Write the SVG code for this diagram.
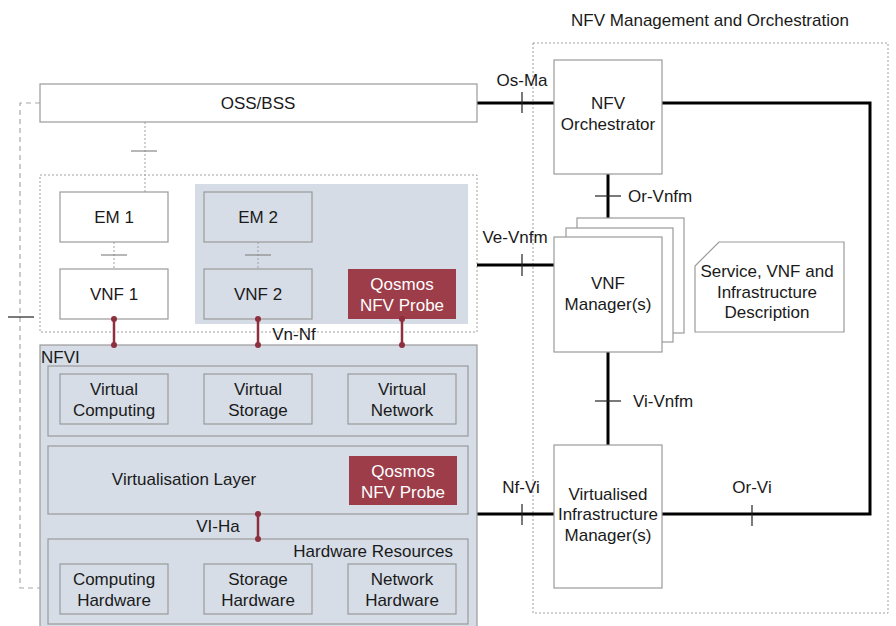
<svg xmlns="http://www.w3.org/2000/svg" width="896" height="626" viewBox="0 0 896 626">
<style>
text{font-family:"Liberation Sans",Arial,sans-serif;font-size:17px;fill:#1a1a1a;text-anchor:middle}
.w{fill:#ffffff}
.box{fill:#ffffff;stroke:#9a9a9a;stroke-width:1.2}
.gbox{fill:#d6dde7;stroke:#9a9a9a;stroke-width:1.2}
.probe{fill:#9c3d49;stroke:none}
.dot{fill:none;stroke:#a0a0a0;stroke-width:1;stroke-dasharray:2 2}
.dash{fill:none;stroke:#a8a8a8;stroke-width:1.2;stroke-dasharray:5 4}
.thick{fill:none;stroke:#000;stroke-width:3}
.tick{fill:none;stroke:#222;stroke-width:1.2}
.gtick{fill:none;stroke:#888;stroke-width:1.2}
.red{fill:none;stroke:#8e2f3d;stroke-width:2.5}
.rdot{fill:#8e2f3d}
</style>
<rect width="896" height="626" fill="#ffffff"/>

<g id="mano">
<rect x="533" y="43" width="355" height="570" class="dot"/>
<text x="710" y="26">NFV Management and Orchestration</text>
</g>

<g id="vnf-area">
<rect x="40" y="175" width="437" height="157" class="dot"/>
<rect x="195" y="184" width="273" height="140" fill="#d6dce6"/>
</g>

<g id="connectors">
<path class="dash" d="M40,103 H20 V588 H60"/>
<path class="tick" d="M8,317 H34"/>
<path class="dot" d="M145,122 V192"/>
<path class="gtick" d="M131,151 H157"/>
<path class="dot" d="M114,242 V269"/>
<path class="gtick" d="M101,255 H127"/>
<path class="dot" d="M258,242 V269"/>
<path class="gtick" d="M245,255 H271"/>
<path class="thick" d="M477,103 H566"/>
<path class="tick" d="M522,92 V113"/>
<path class="thick" d="M662,103 H870 V514 H662"/>
<path class="tick" d="M752,505 V526"/>
<path class="thick" d="M608,174 V218"/>
<path class="tick" d="M595,196 H621"/>
<path class="thick" d="M477,265 H554"/>
<path class="tick" d="M522,254 V276"/>
<path class="thick" d="M608,352 V445"/>
<path class="tick" d="M595,401 H621"/>
<path class="thick" d="M477,514 H554"/>
<path class="tick" d="M522,504 V525"/>
</g>

<g id="oss">
<rect x="40" y="84" width="437" height="38" class="box"/>
<text x="258" y="109">OSS/BSS</text>
</g>

<g id="em1"><rect x="60" y="192" width="108" height="50" class="box"/><text x="114" y="223">EM 1</text></g>
<g id="vnf1"><rect x="60" y="269" width="108" height="50" class="box"/><text x="114" y="300">VNF 1</text></g>
<g id="em2"><rect x="204" y="192" width="108" height="50" class="gbox"/><text x="258" y="223">EM 2</text></g>
<g id="vnf2"><rect x="204" y="269" width="108" height="50" class="gbox"/><text x="258" y="300">VNF 2</text></g>
<g id="probe1"><rect x="348" y="269" width="108" height="50" class="probe"/><text x="402" y="290" class="w">Qosmos</text><text x="402" y="311" class="w">NFV Probe</text></g>

<g id="nfvi">
<rect x="40" y="345" width="437" height="290" class="gbox"/>
<text x="41" y="363" style="text-anchor:start">NFVI</text>
<rect x="48" y="366" width="420" height="70" class="gbox"/>
<rect x="48" y="446" width="420" height="68" class="gbox"/>
<rect x="48" y="539" width="420" height="85" class="gbox"/>
</g>
<g id="vcomp"><rect x="60" y="374" width="108" height="50" class="gbox"/><text x="114" y="395">Virtual</text><text x="114" y="416">Computing</text></g>
<g id="vstor"><rect x="204" y="374" width="108" height="50" class="gbox"/><text x="258" y="395">Virtual</text><text x="258" y="416">Storage</text></g>
<g id="vnet"><rect x="348" y="374" width="108" height="50" class="gbox"/><text x="402" y="395">Virtual</text><text x="402" y="416">Network</text></g>
<g id="virtlayer"><text x="184" y="485">Virtualisation Layer</text></g>
<g id="probe2"><rect x="349" y="456" width="108" height="49" class="probe"/><text x="403" y="477" class="w">Qosmos</text><text x="403" y="498" class="w">NFV Probe</text></g>
<g id="hwres"><text x="453" y="557" style="text-anchor:end">Hardware Resources</text></g>
<g id="chw"><rect x="60" y="564" width="108" height="50" class="gbox"/><text x="114" y="585">Computing</text><text x="114" y="606">Hardware</text></g>
<g id="shw"><rect x="204" y="564" width="108" height="50" class="gbox"/><text x="258" y="585">Storage</text><text x="258" y="606">Hardware</text></g>
<g id="nhw"><rect x="348" y="564" width="108" height="50" class="gbox"/><text x="402" y="585">Network</text><text x="402" y="606">Hardware</text></g>

<g id="red-connectors">
<path class="red" d="M114,319 V345 M258,319 V345 M402,319 V345 M258,514 V539"/>
<circle cx="114" cy="319" r="3" class="rdot"/><circle cx="114" cy="345" r="3" class="rdot"/>
<circle cx="258" cy="319" r="3" class="rdot"/><circle cx="258" cy="345" r="3" class="rdot"/>
<circle cx="402" cy="319" r="3" class="rdot"/><circle cx="402" cy="345" r="3" class="rdot"/>
<circle cx="258" cy="514" r="3" class="rdot"/><circle cx="258" cy="539" r="3" class="rdot"/>
</g>

<g id="labels">
<text x="294" y="340">Vn-Nf</text>
<text x="218" y="532">VI-Ha</text>
<text x="522" y="86">Os-Ma</text>
<text x="628" y="202" style="text-anchor:start">Or-Vnfm</text>
<text x="515" y="243">Ve-Vnfm</text>
<text x="633" y="407" style="text-anchor:start">Vi-Vnfm</text>
<text x="521" y="493">Nf-Vi</text>
<text x="752" y="493">Or-Vi</text>
</g>

<g id="orchestrator"><rect x="554" y="60" width="108" height="114" class="box"/><text x="608" y="109">NFV</text><text x="608" y="130">Orchestrator</text></g>
<g id="vnfm">
<rect x="577" y="218" width="107" height="115" class="box"/>
<rect x="566" y="228" width="107" height="114" class="box"/>
<rect x="554" y="237" width="108" height="115" class="box"/>
<text x="608" y="289">VNF</text><text x="608" y="310">Manager(s)</text>
</g>
<g id="desc">
<path d="M719,242 H844 V332 H695 V266 Z" class="box"/>
<text x="767" y="277">Service, VNF and</text><text x="767" y="298">Infrastructure</text><text x="767" y="318">Description</text>
</g>
<g id="vim"><rect x="554" y="445" width="108" height="143" class="box"/><text x="608" y="500">Virtualised</text><text x="608" y="520">Infrastructure</text><text x="608" y="541">Manager(s)</text></g>
</svg>
